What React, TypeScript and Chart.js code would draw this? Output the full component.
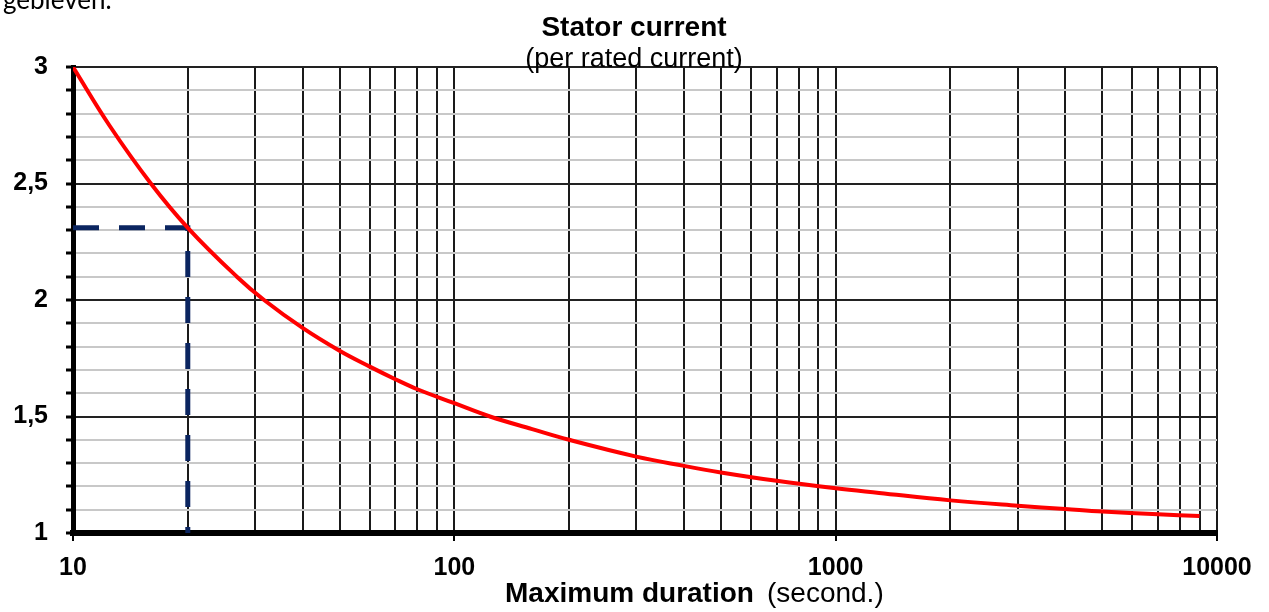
import React, { useEffect, useRef } from 'react';
import { Chart, registerables } from 'chart.js';

Chart.register(...registerables);

// ---- data ----
const durations = [10, 12.45, 16.0, 20, 26.9, 31.7, 40, 50, 60, 70, 80, 100, 124, 160, 200, 300, 400, 500, 700, 1000, 1300, 2000, 3000, 4000, 5000, 7000, 9000];
const currents = [3.0, 2.75, 2.5, 2.31, 2.1, 2.0, 1.88, 1.782, 1.714, 1.66, 1.617, 1.557, 1.5, 1.446, 1.4, 1.328, 1.288, 1.26, 1.224, 1.192, 1.172, 1.14, 1.117, 1.103, 1.092, 1.08, 1.073];

const markerDurations = [10, 20, 20];
const markerCurrents = [2.31, 2.31, 1];

const xLabelValues = [10, 100, 1000, 10000];
const xLabels = ['10', '100', '1000', '10000'];
const yLabelValues = [1, 1.5, 2, 2.5, 3];
const yLabels = ['1', '1,5', '2', '2,5', '3'];

const chartTitle = 'Stator current';
const chartSubtitle = '(per rated current)';
const xTitleMain = 'Maximum duration';
const xTitleUnit = '(second.)';
const pageFragment = 'gebleven.';

// grid positions
const decades = [10, 100, 1000];
const multipliers = [1, 2, 3, 4, 5, 6, 7, 8, 9];
const xGridValues: number[] = [];
decades.forEach((d) => multipliers.forEach((m) => xGridValues.push(m * d)));
xGridValues.push(10000);

const yGridValues: number[] = [];
for (let i = 0; i <= 20; i++) yGridValues.push(Math.round((1 + i * 0.1) * 10) / 10);

const isYMajor = (v: number) => yLabelValues.some((m) => Math.abs(m - v) < 1e-6);

const FONT = '"Liberation Sans", Arial, sans-serif';

const textPlugin = {
  id: 'textPlugin',
  afterDraw(chart: any) {
    const ctx = chart.ctx;
    ctx.save();
    ctx.fillStyle = '#000';
    ctx.textBaseline = 'alphabetic';
    ctx.textAlign = 'left';
    ctx.font = '26px Lato, sans-serif';
    ctx.fillText(pageFragment, 3, 9);

    ctx.textAlign = 'center';
    ctx.font = `bold 28px ${FONT}`;
    ctx.fillText(chartTitle, 634, 36);
    ctx.font = `27px ${FONT}`;
    ctx.fillText(chartSubtitle, 634, 67);

    ctx.textAlign = 'left';
    ctx.font = `bold 28px ${FONT}`;
    ctx.fillText(xTitleMain, 505, 602);
    ctx.font = `28px ${FONT}`;
    ctx.fillText(xTitleUnit, 767, 602);
    ctx.restore();
  },
};

export default function App() {
  const canvasRef = useRef<HTMLCanvasElement | null>(null);

  useEffect(() => {
    const canvas = canvasRef.current;
    if (!canvas) return;
    const chart = new Chart(canvas, {
      type: 'line',
      data: {
        datasets: [
          {
            label: 'Stator current',
            data: durations.map((d, i) => ({ x: d, y: currents[i] })),
            borderColor: '#ff0000',
            borderWidth: 4,
            pointRadius: 0,
            fill: false,
            tension: 0.4,
            order: 0,
          },
          {
            label: 'Marker',
            data: markerDurations.map((d, i) => ({ x: d, y: markerCurrents[i] })),
            borderColor: '#0b2560',
            borderWidth: 5,
            borderDash: [26, 20],
            pointRadius: 0,
            fill: false,
            tension: 0,
            order: 1,
          },
        ],
      },
      options: {
        responsive: false,
        animation: false,
        devicePixelRatio: 1,
        layout: { padding: { left: 0, top: 67, right: 52, bottom: 0 } },
        plugins: {
          legend: { display: false },
          tooltip: { enabled: false },
          title: { display: false },
        },
        scales: {
          x: {
            type: 'logarithmic',
            min: 10,
            max: 10000,
            afterBuildTicks: (s: any) => {
              s.ticks = xGridValues.map((v) => ({ value: v }));
            },
            afterFit: (s: any) => {
              s.height = 79;
            },
            ticks: {
              autoSkip: false,
              maxRotation: 0,
              minRotation: 0,
              padding: 12,
              color: '#000',
              font: { family: FONT, size: 25, weight: 'bold' },
              callback: (v: any) => {
                const i = xLabelValues.indexOf(Number(v));
                return i >= 0 ? xLabels[i] : '';
              },
            },
            grid: {
              color: '#1a1a1a',
              lineWidth: 2,
              tickLength: 8,
              tickWidth: 2,
              tickColor: (c: any) =>
                c.tick && xLabelValues.includes(c.tick.value) ? '#000' : 'rgba(0,0,0,0)',
            },
            border: { display: true, color: '#000', width: 6 },
          },
          y: {
            type: 'linear',
            min: 1,
            max: 3,
            afterBuildTicks: (s: any) => {
              s.ticks = yGridValues.map((v) => ({ value: v }));
            },
            afterFit: (s: any) => {
              s.width = 73;
            },
            ticks: {
              autoSkip: false,
              padding: 18,
              color: '#000',
              font: { family: FONT, size: 25, weight: 'bold' },
              callback: (v: any) => {
                const i = yLabelValues.findIndex((m) => Math.abs(m - Number(v)) < 1e-6);
                return i >= 0 ? yLabels[i] : '';
              },
            },
            grid: {
              color: (c: any) => (c.tick && isYMajor(c.tick.value) ? '#222' : '#c8c8c8'),
              lineWidth: 2,
              tickLength: 7,
              tickWidth: 3,
              tickColor: '#000',
            },
            border: { display: true, color: '#000', width: 5 },
          },
        },
      } as any,
      plugins: [textPlugin],
    });
    return () => chart.destroy();
  }, []);

  return (
    <div style={{ position: 'fixed', left: 0, top: 0, width: 1269, height: 612, background: '#fff' }}>
      <canvas ref={canvasRef} width={1269} height={612} style={{ display: 'block' }} />
    </div>
  );
}
